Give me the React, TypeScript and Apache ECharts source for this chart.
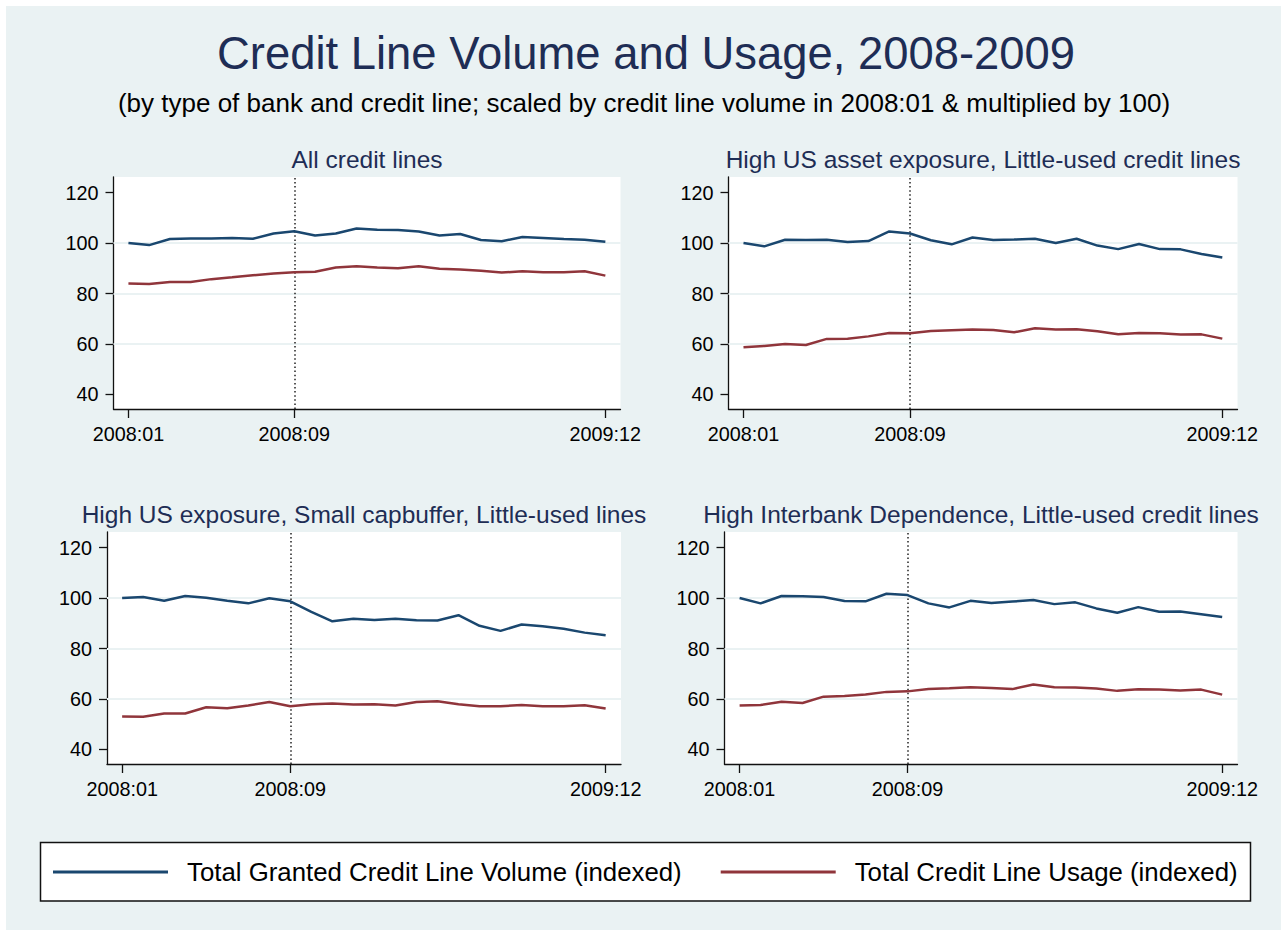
import React, { useEffect, useRef } from "react";
import * as echarts from "echarts";

// Monthly observations, 2008:01 .. 2009:12
const months = [
  "2008:01", "2008:02", "2008:03", "2008:04", "2008:05", "2008:06",
  "2008:07", "2008:08", "2008:09", "2008:10", "2008:11", "2008:12",
  "2009:01", "2009:02", "2009:03", "2009:04", "2009:05", "2009:06",
  "2009:07", "2009:08", "2009:09", "2009:10", "2009:11", "2009:12",
];

// Month indices that carry an x tick label
const xTickIdx = [0, 8, 23];
// Lehman month marker
const eventIdx = 8;
const yTicks = [40, 60, 80, 100, 120];
const yGrid = [60, 80, 100];

const volumeName = "Total Granted Credit Line Volume (indexed)";
const usageName = "Total Credit Line Usage (indexed)";

const panelTitles = [
  "All credit lines",
  "High US asset exposure, Little-used credit lines",
  "High US exposure, Small capbuffer, Little-used lines",
  "High Interbank Dependence, Little-used credit lines",
];

const allVolume = [100, 99.2, 101.6, 101.8, 101.8, 102.0, 101.7, 103.8, 104.7, 103.0, 103.8, 105.8, 105.3, 105.2, 104.6, 103.0, 103.6, 101.2, 100.7, 102.4, 102.0, 101.6, 101.3, 100.5];
const allUsage = [84.0, 83.8, 84.6, 84.6, 85.7, 86.4, 87.2, 87.9, 88.4, 88.6, 90.3, 90.8, 90.3, 90.0, 90.8, 89.8, 89.5, 89.0, 88.3, 88.8, 88.4, 88.4, 88.8, 87.1];

const usVolume = [100, 98.7, 101.3, 101.2, 101.3, 100.4, 100.8, 104.6, 103.8, 101.1, 99.5, 102.2, 101.2, 101.4, 101.7, 100.0, 101.7, 99.0, 97.6, 99.6, 97.6, 97.5, 95.7, 94.3];
const usUsage = [58.7, 59.2, 60.0, 59.6, 62.0, 62.1, 63.0, 64.3, 64.2, 65.1, 65.4, 65.7, 65.5, 64.6, 66.2, 65.7, 65.8, 65.0, 63.8, 64.3, 64.2, 63.7, 63.8, 62.1];

const capVolume = [100, 100.4, 98.9, 100.8, 100.1, 98.9, 97.9, 99.9, 98.7, 94.5, 90.8, 91.8, 91.3, 91.8, 91.2, 91.1, 93.2, 89.0, 87.0, 89.5, 88.8, 87.8, 86.3, 85.3];
const capUsage = [53.0, 52.9, 54.2, 54.2, 56.7, 56.3, 57.4, 58.8, 57.1, 57.9, 58.2, 57.8, 57.9, 57.4, 58.8, 59.1, 57.9, 57.1, 57.1, 57.6, 57.1, 57.1, 57.5, 56.2];

const ibVolume = [100, 97.9, 100.8, 100.7, 100.4, 98.8, 98.7, 101.7, 101.2, 97.9, 96.3, 98.9, 98.0, 98.6, 99.2, 97.6, 98.3, 95.9, 94.2, 96.4, 94.6, 94.7, 93.6, 92.5];
const ibUsage = [57.4, 57.6, 58.9, 58.4, 60.9, 61.2, 61.8, 62.8, 63.0, 63.9, 64.2, 64.6, 64.3, 63.9, 65.7, 64.6, 64.5, 64.1, 63.2, 63.8, 63.7, 63.3, 63.7, 61.7];

const volumes = [allVolume, usVolume, capVolume, ibVolume];
const usages = [allUsage, usUsage, capUsage, ibUsage];

const FONT = '"Liberation Sans", Arial, sans-serif';
const NAVY = "#1a476f";
const MAROON = "#90353b";
const BG = "#eaf2f3";
const TITLE_COLOR = "#1e2d55";

// Plot-region boxes for the 2x2 layout
const grids = [
  { left: 113.5, top: 177, width: 507, height: 232 },
  { left: 728.5, top: 177, width: 509, height: 232 },
  { left: 107, top: 532, width: 514, height: 232 },
  { left: 724.5, top: 532, width: 513, height: 232 },
];
const titleY = [159, 159, 514, 514];

function buildOption(): echarts.EChartsOption {
  const xAxis: any[] = [];
  const yAxis: any[] = [];
  const series: any[] = [];
  const graphic: any[] = [
    // white frame strips at top and left
    { type: "rect", shape: { x: 0, y: 0, width: 1281, height: 6 }, style: { fill: "#ffffff" }, silent: true },
    { type: "rect", shape: { x: 0, y: 0, width: 6, height: 930 }, style: { fill: "#ffffff" }, silent: true },
    {
      type: "text", x: 646, y: 53,
      style: { text: "Credit Line Volume and Usage, 2008-2009", font: `45.4px ${FONT}`, fill: TITLE_COLOR, align: "center", verticalAlign: "middle" },
    },
    {
      type: "text", x: 644, y: 103,
      style: { text: "(by type of bank and credit line; scaled by credit line volume in 2008:01 & multiplied by 100)", font: `26px ${FONT}`, fill: "#000000", align: "center", verticalAlign: "middle" },
    },
    // legend frame
    { type: "rect", shape: { x: 40.5, y: 842.5, width: 1210, height: 58.5 }, style: { fill: "#ffffff", stroke: "#111111", lineWidth: 1.5 }, silent: true },
  ];

  grids.forEach((g, i) => {
    graphic.push({
      type: "text", x: g.left + g.width / 2, y: titleY[i],
      style: { text: panelTitles[i], font: `24.5px ${FONT}`, fill: TITLE_COLOR, align: "center", verticalAlign: "middle" },
    });
    xAxis.push({
      type: "value", gridIndex: i, min: -0.72, max: 23.73,
      axisLine: { show: true, onZero: false, lineStyle: { color: "#111111", width: 1.3 } },
      axisTick: { show: true, customValues: xTickIdx, length: 9, lineStyle: { color: "#111111", width: 1.3 } },
      axisLabel: {
        show: true, customValues: xTickIdx, margin: 15,
        formatter: (v: number) => months[Math.round(v)] ?? "",
        fontSize: 19.8, fontFamily: FONT, color: "#000000",
      },
      splitLine: { show: false },
    });
    yAxis.push({
      type: "value", gridIndex: i, min: 34.2, max: 126.2,
      axisLine: { show: true, onZero: false, lineStyle: { color: "#111111", width: 1.3 } },
      axisTick: { show: true, customValues: yTicks, length: 8, lineStyle: { color: "#111111", width: 1.3 } },
      axisLabel: {
        show: true, customValues: yTicks, margin: 15,
        fontSize: 19.8, fontFamily: FONT, color: "#000000",
      },
      splitLine: { show: false },
    });
    series.push({
      type: "line", name: volumeName, xAxisIndex: i, yAxisIndex: i, z: 3,
      data: volumes[i].map((v, k) => [k, v]),
      symbol: "none", lineStyle: { color: NAVY, width: 2.5 }, itemStyle: { color: NAVY },
      markLine: {
        silent: true, symbol: "none", z: 1, animation: false,
        label: { show: false },
        lineStyle: { color: BG, width: 2, type: "solid" },
        data: [
          ...yGrid.map((y) => ({ yAxis: y })),
          { xAxis: eventIdx, lineStyle: { color: "#222222", width: 1.5, type: [1.5, 2.6] } },
        ],
      },
    });
    series.push({
      type: "line", name: usageName, xAxisIndex: i, yAxisIndex: i, z: 3,
      data: usages[i].map((v, k) => [k, v]),
      symbol: "none", lineStyle: { color: MAROON, width: 2.5 }, itemStyle: { color: MAROON },
    });
  });

  return {
    animation: false,
    backgroundColor: BG,
    grid: grids.map((g) => ({ ...g, show: true, backgroundColor: "#ffffff", borderWidth: 0, containLabel: false })),
    xAxis,
    yAxis,
    series,
    legend: {
      left: 53, top: 857, padding: 0,
      icon: "rect", itemWidth: 115, itemHeight: 3, itemGap: 39,
      selectedMode: false,
      data: [volumeName, usageName],
      textStyle: { fontSize: 25.8, fontFamily: FONT, color: "#000000", padding: [0, 0, 0, 14], lineHeight: 30 },
    },
    graphic,
  } as any;
}

export default function App() {
  const ref = useRef<HTMLDivElement>(null);
  useEffect(() => {
    if (!ref.current) return;
    const chart = echarts.init(ref.current, undefined, { renderer: "svg" });
    chart.setOption(buildOption());
    return () => chart.dispose();
  }, []);
  return <div ref={ref} style={{ position: "absolute", left: 0, top: 0, width: 1281, height: 930 }} />;
}
